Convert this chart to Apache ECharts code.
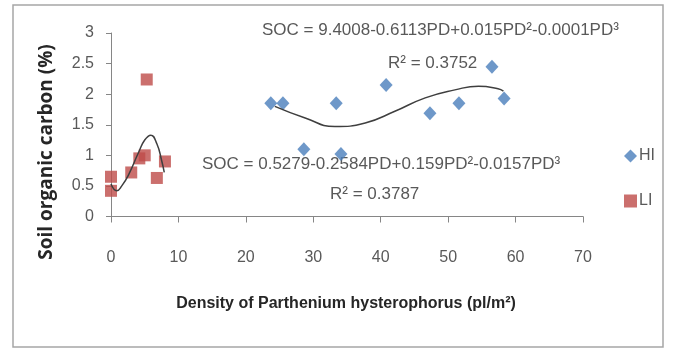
<!DOCTYPE html>
<html><head><meta charset="utf-8">
<script src="https://cdn.jsdelivr.net/npm/echarts@6/dist/echarts.min.js"></script>
<style>html,body{margin:0;padding:0;background:#fff}#c{width:673px;height:350px}</style>
</head><body><div id="c"></div>
<script>
// Data
const hiX = [23.7, 25.5, 28.6, 33.4, 34.1, 40.8, 47.3, 51.6, 56.5, 58.3];
const hiY = [1.85, 1.85, 1.10, 1.85, 1.02, 2.15, 1.69, 1.85, 2.45, 1.93];
const liX = [0, 0, 3.0, 4.2, 5.0, 5.3, 6.8, 8.0];
const liY = [0.65, 0.42, 0.72, 0.95, 1.0, 2.24, 0.63, 0.9];
// Trend curves
const hiCurveX = [24.3, 28.8, 33.2, 37.7, 42.1, 46.6, 51.0, 54.5, 57.4, 58.2];
const hiCurveY = [1.80, 1.61, 1.47, 1.53, 1.72, 1.94, 2.07, 2.13, 2.09, 2.05];
const liCurveX = [0, 0.85, 1.6, 2.6, 4.1, 5.0, 5.9, 6.8, 7.5, 7.9];
const liCurveY = [0.53, 0.42, 0.50, 0.68, 1.05, 1.25, 1.33, 1.19, 0.92, 0.72];
const xTicks = [0, 10, 20, 30, 40, 50, 60, 70];
const yTicks = [0, 0.5, 1, 1.5, 2, 2.5, 3];
const eq1 = 'SOC = 9.4008-0.6113PD+0.015PD²-0.0001PD³';
const r1 = 'R² = 0.3752';
const eq2 = 'SOC = 0.5279-0.2584PD+0.159PD²-0.0157PD³';
const r2 = 'R² = 0.3787';

const zip = (a, b) => a.map((v, i) => [v, b[i]]);
const narrow = '"Liberation Sans Narrow", "Arial Narrow", "Liberation Sans", sans-serif';
const txt = '#595959';
const axisCol = '#868686';

const chart = echarts.init(document.getElementById('c'));
chart.setOption({
  animation: false,
  backgroundColor: '#fff',
  grid: { left: 111, right: 90, top: 33, bottom: 133.5, containLabel: false },
  xAxis: {
    type: 'value', min: xTicks[0], max: xTicks[xTicks.length - 1], interval: 10,
    splitLine: { show: false },
    axisLine: { lineStyle: { color: axisCol, width: 1 } },
    axisTick: { show: true, inside: false, length: 6, lineStyle: { color: axisCol } },
    axisLabel: { margin: 33, fontSize: 16, color: txt, fontFamily: narrow }
  },
  yAxis: {
    type: 'value', min: yTicks[0], max: yTicks[yTicks.length - 1], interval: 0.5,
    splitLine: { show: false },
    axisLine: { show: true, lineStyle: { color: axisCol, width: 1 } },
    axisTick: { show: true, length: 5, lineStyle: { color: axisCol } },
    axisLabel: { margin: 17, fontSize: 16, color: txt, fontFamily: narrow }
  },
  legend: {
    data: ['HI', 'LI'], orient: 'vertical', left: 619, top: 143,
    itemWidth: 13, itemHeight: 13, itemGap: 29,
    textStyle: { fontSize: 16, color: txt, fontFamily: narrow, padding: [0, 0, 0, -3] }
  },
  series: [
    { name: 'HI curve', type: 'line', data: zip(hiCurveX, hiCurveY), smooth: 0.5, showSymbol: false,
      lineStyle: { color: '#3f3f3f', width: 1.5 }, z: 3 },
    { name: 'LI curve', type: 'line', data: zip(liCurveX, liCurveY), smooth: 0.5, showSymbol: false,
      lineStyle: { color: '#3f3f3f', width: 1.5 }, z: 3 },
    { name: 'HI', type: 'scatter', data: zip(hiX, hiY), symbol: 'diamond', symbolSize: [13, 14],
      itemStyle: { color: '#4a7ebb' }, z: 2 },
    { name: 'LI', type: 'scatter', data: zip(liX, liY), symbol: 'rect', symbolSize: 12,
      itemStyle: { color: '#be4b48' }, z: 2 }
  ],
  graphic: [
    { type: 'rect', shape: { x: 13, y: 5, width: 650, height: 342 }, style: { fill: 'none', stroke: '#a6a6a6', lineWidth: 1.5 }, z: -1 },
    { type: 'text', left: 262, top: 22, style: { text: eq1, fontSize: 17, fill: txt, fontFamily: narrow } },
    { type: 'text', left: 388, top: 55, style: { text: r1, fontSize: 17, fill: txt, fontFamily: narrow } },
    { type: 'text', left: 202, top: 156, style: { text: eq2, fontSize: 17, fill: txt, fontFamily: narrow } },
    { type: 'text', left: 330, top: 186, style: { text: r2, fontSize: 17, fill: txt, fontFamily: narrow } },
    { type: 'text', x: 47, y: 152, rotation: Math.PI / 2,
      style: { text: 'Soil organic carbon (%)', fontSize: 19, fontWeight: 'bold', fill: '#262626',
        fontFamily: '"Open Sans", sans-serif', align: 'center', verticalAlign: 'middle' } },
    { type: 'text', x: 346, y: 304,
      style: { text: 'Density of Parthenium hysterophorus (pl/m²)', fontSize: 16, fontWeight: 'bold', fill: '#262626',
        fontFamily: narrow, align: 'center', verticalAlign: 'middle' } }
  ]
});
</script></body></html>
